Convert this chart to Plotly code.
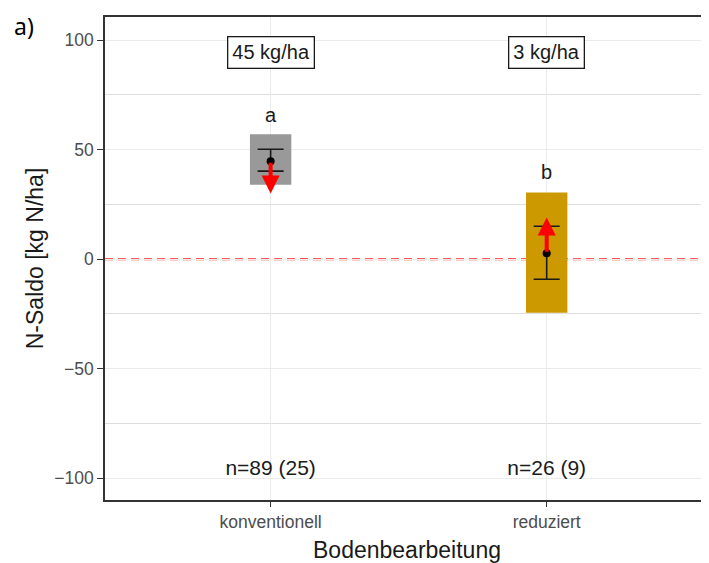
import plotly.graph_objects as go

categories = ["konventionell", "reduziert"]
box_low = [34, -24.5]
box_high = [57, 30.5]
box_colors = ["#999999", "#CC9900"]
means = [44.7, 2.7]
err_high = [50.2, 15.0]
err_low = [40.2, -9.2]
arrow_end = [30.0, 19.0]
letters = ["a", "b"]
letter_y = [65, 39]
diff_labels = ["45 kg/ha", "3 kg/ha"]
n_labels = ["n=89 (25)", "n=26 (9)"]
y_ticks = [-100, -50, 0, 50, 100]

FONT = "Liberation Sans, Arial, sans-serif"
xpos = [1, 2]

fig = go.Figure()
fig.add_trace(go.Bar(
    x=xpos, y=[h - l for h, l in zip(box_high, box_low)], base=box_low,
    width=0.15, marker=dict(color=box_colors, line=dict(width=0)), showlegend=False))
fig.add_trace(go.Scatter(
    x=xpos, y=means, mode="markers",
    marker=dict(color="black", size=8),
    error_y=dict(type="data", symmetric=False,
                 array=[h - m for h, m in zip(err_high, means)],
                 arrayminus=[m - l for m, l in zip(means, err_low)],
                 color="#1a1a1a", thickness=1.6, width=13),
    showlegend=False))
fig.add_trace(go.Scatter(
    x=xpos, y=letter_y, mode="text", text=letters,
    textfont=dict(family=FONT, size=20, color="#1a1a1a"), showlegend=False))
fig.add_trace(go.Scatter(
    x=xpos, y=[-96, -96], mode="text", text=n_labels,
    textfont=dict(family=FONT, size=21, color="#1a1a1a"), showlegend=False))

fig.add_shape(type="line", xref="paper", yref="y", x0=0, x1=1, y0=0, y1=0,
              line=dict(color="#FF2626", width=2, dash="8px,5px"), layer="between")

for i in range(2):
    fig.add_annotation(x=xpos[i], y=arrow_end[i], ax=xpos[i], ay=means[i],
                       xref="x", yref="y", axref="x", ayref="y",
                       showarrow=True, arrowhead=2, arrowsize=0.9, arrowwidth=4,
                       arrowcolor="#FF0000", text="")
    fig.add_annotation(x=xpos[i], y=94.5, xref="x", yref="y", text=diff_labels[i],
                       showarrow=False, font=dict(family=FONT, size=20, color="#1a1a1a"),
                       bordercolor="#1a1a1a", borderwidth=1.3, borderpad=4, bgcolor="white")

fig.add_annotation(x=0.0, y=1.0, xref="paper", yref="paper", text="a)", showarrow=False,
                   xanchor="left", yanchor="middle", xshift=-93, yshift=-9,
                   font=dict(family="Noto Sans, sans-serif", size=23, color="black"))

fig.update_layout(
    width=701, height=555,
    margin=dict(l=97, r=0, t=9, b=63, autoexpand=False),
    plot_bgcolor="white", paper_bgcolor="white",
    font=dict(family=FONT),
    xaxis=dict(range=[0.4, 2.588], tickvals=xpos, ticktext=categories, automargin=False,
               showgrid=True, gridcolor="#ebebeb", gridwidth=1,
               showline=True, mirror=True, linecolor="#333333", linewidth=1.6,
               ticks="outside", ticklen=5, tickcolor="#333333",
               tickfont=dict(size=17.5, color="#4d4d4d"),
               title=dict(text="Bodenbearbeitung", font=dict(size=23, color="#1a1a1a"), standoff=11),
               zeroline=False),
    yaxis=dict(range=[-110, 110.6], tickvals=y_ticks, automargin=False,
               showgrid=True, gridcolor="#ebebeb", gridwidth=1,
               minor=dict(dtick=25, tick0=0, showgrid=True, gridcolor="#dedede", gridwidth=1.2),
               showline=True, mirror=False, linecolor="#333333", linewidth=1.6,
               ticks="outside", ticklen=6, tickcolor="#333333",
               tickfont=dict(size=17.5, color="#4d4d4d"),
               title=dict(text="N-Saldo [kg N/ha]", font=dict(size=23, color="#1a1a1a"), standoff=4),
               zeroline=False),
)
fig.write_html("out.html")
